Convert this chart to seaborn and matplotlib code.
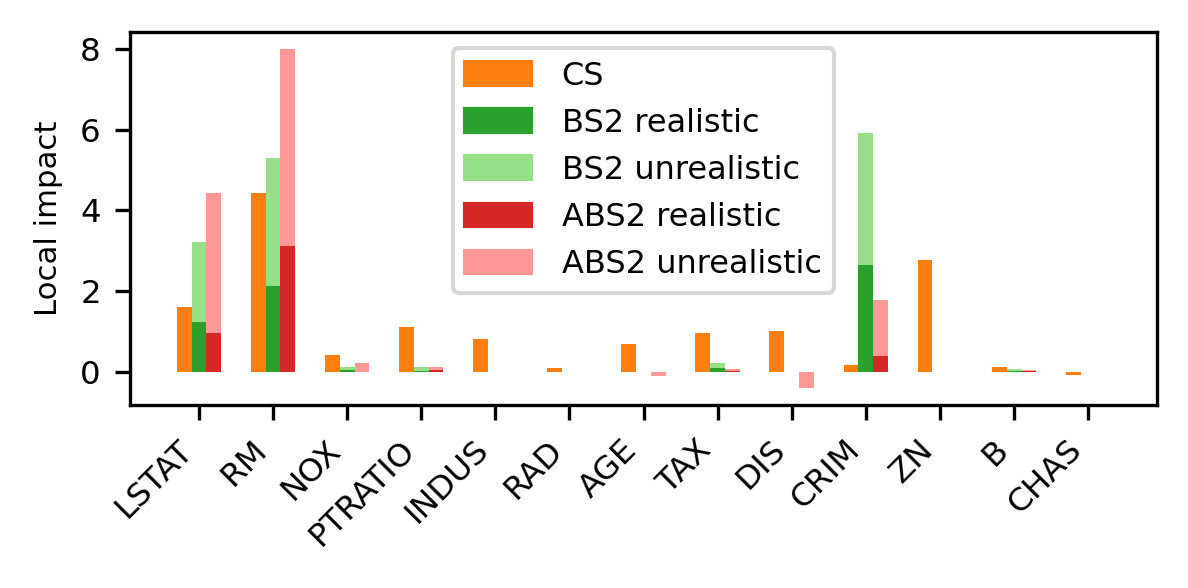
import numpy as np
import pandas as pd
import matplotlib
matplotlib.use("Agg")
import matplotlib.pyplot as plt
import seaborn as sns
from matplotlib.patches import Patch

# feature order and read-off values
features = ["LSTAT", "RM", "NOX", "PTRATIO", "INDUS", "RAD", "AGE",
            "TAX", "DIS", "CRIM", "ZN", "B", "CHAS"]
cs = [1.61, 4.44, 0.41, 1.11, 0.82, 0.10, 0.69, 0.97, 1.02, 0.17, 2.78, 0.12, -0.07]
bs2_real = [1.24, 2.13, 0.04, 0.03, 0.0, 0.0, 0.0, 0.10, 0.0, 2.66, 0.0, 0.02, 0.0]
bs2_unreal = [3.23, 5.29, 0.12, 0.12, 0.0, 0.0, 0.0, 0.22, 0.0, 5.93, 0.0, 0.07, 0.0]
abs2_real = [0.96, 3.13, 0.0, 0.05, 0.0, 0.0, 0.0, 0.03, -0.01, 0.40, 0.0, 0.01, 0.0]
abs2_unreal = [4.42, 8.00, 0.22, 0.12, 0.0, 0.0, -0.09, 0.07, -0.40, 1.78, 0.0, 0.05, 0.0]

methods = ["CS", "BS2", "ABS2"]

# long-form tables: back layer (unrealistic) and front layer (realistic)
back = pd.DataFrame({
    "feature": features * 3,
    "method": np.repeat(methods, len(features)),
    "value": cs + bs2_unreal + abs2_unreal,
})
front = pd.DataFrame({
    "feature": features * 3,
    "method": np.repeat(methods, len(features)),
    "value": cs + bs2_real + abs2_real,
})

c_cs = "#ff7f0e"
c_bs2 = "#2ca02c"
c_bs2u = "#98df8a"
c_abs2 = "#d62728"
c_abs2u = "#ff9896"

fig, ax = plt.subplots(figsize=(3.96, 1.96), dpi=300)
fig.subplots_adjust(left=130 / 1188, right=1157 / 1188, bottom=1 - 405 / 588, top=1 - 32 / 588)

sns.barplot(data=back, x="feature", y="value", hue="method", hue_order=methods,
            palette=[c_cs, c_bs2u, c_abs2u], width=0.6, saturation=1,
            linewidth=0, errorbar=None, legend=False, ax=ax)
sns.barplot(data=front, x="feature", y="value", hue="method", hue_order=methods,
            palette=[c_cs, c_bs2, c_abs2], width=0.6, saturation=1,
            linewidth=0, errorbar=None, legend=False, ax=ax)

ax.set_xlim(-0.93, len(features) - 1 + 0.93)
ax.set_ylim(-0.82, 8.42)
ax.set_yticks([0, 2, 4, 6, 8])
ax.set_xlabel("")
ax.set_ylabel("Local impact", fontsize=7.4)
ax.tick_params(axis="both", labelsize=7.8)
plt.setp(ax.get_xticklabels(), rotation=45, ha="right", rotation_mode="default")

handles = [Patch(color=c_cs, label="CS"),
           Patch(color=c_bs2, label="BS2 realistic"),
           Patch(color=c_bs2u, label="BS2 unrealistic"),
           Patch(color=c_abs2, label="ABS2 realistic"),
           Patch(color=c_abs2u, label="ABS2 unrealistic")]
ax.legend(handles=handles, loc="upper center", fontsize=7.7,
          handlelength=2.05, handletextpad=0.95)

fig.savefig("out.png", dpi=300)
